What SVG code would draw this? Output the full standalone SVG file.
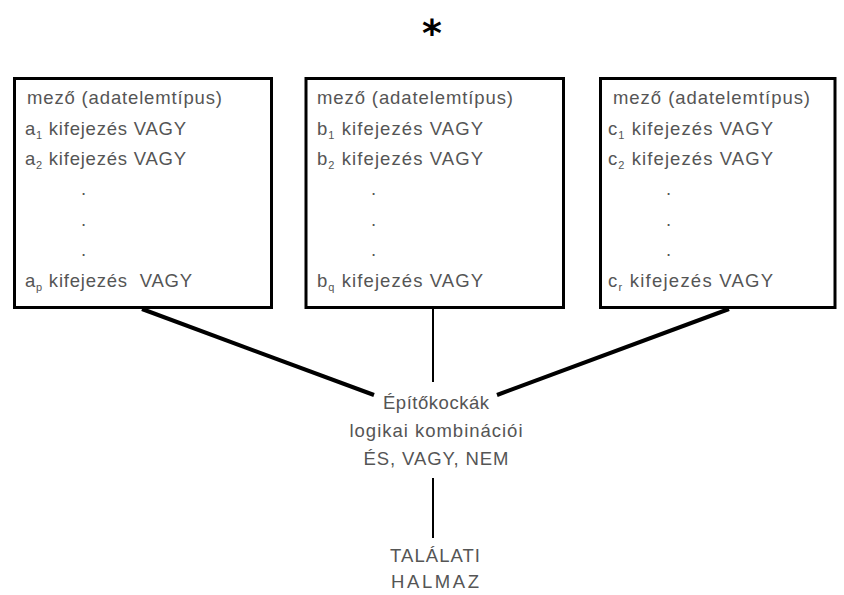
<svg xmlns="http://www.w3.org/2000/svg" width="844" height="595" viewBox="0 0 844 595">
<style>
.box{fill:#fff;stroke:#000;stroke-width:3}
.t{font-family:"Liberation Sans",Arial,sans-serif;font-size:18.5px;fill:#555}
.c{text-anchor:middle}
.sub{font-size:11px}
.thick{stroke:#000;stroke-width:4;fill:none}
.thin{stroke:#000;stroke-width:2;fill:none}
</style>
<rect width="844" height="595" fill="#fff"/>
<text x="432" y="46" font-family="DejaVu Sans,sans-serif" font-size="38" font-weight="bold" text-anchor="middle" fill="#000">*</text>
<g id="connectors">
<line class="thick" x1="142" y1="309" x2="374" y2="395"/>
<line class="thick" x1="729" y1="309" x2="497" y2="395"/>
<line class="thin" x1="433" y1="309" x2="433" y2="382"/>
<line class="thin" x1="433" y1="478" x2="433" y2="538"/>
</g>
<g id="boxA">
<rect class="box" x="14.5" y="78.5" width="257" height="229"/>
<text class="t" x="27" y="104" textLength="195">mező (adatelemtípus)</text>
<text class="t" x="25" y="134.5" textLength="161">a<tspan class="sub" dy="4">1</tspan><tspan dy="-4"> kifejezés VAGY</tspan></text>
<text class="t" x="25" y="165" textLength="161">a<tspan class="sub" dy="4">2</tspan><tspan dy="-4"> kifejezés VAGY</tspan></text>
<text class="t" x="81" y="195">.</text>
<text class="t" x="81" y="226">.</text>
<text class="t" x="81" y="256">.</text>
<text class="t" x="25" y="287" textLength="167" style="white-space:pre">a<tspan class="sub" dy="4">p</tspan><tspan dy="-4"> kifejezés  VAGY</tspan></text>
</g>
<g id="boxB">
<rect class="box" x="306" y="78.5" width="257.5" height="229"/>
<text class="t" x="317" y="104" textLength="196">mező (adatelemtípus)</text>
<text class="t" x="317" y="134.5" textLength="166">b<tspan class="sub" dy="4">1</tspan><tspan dy="-4"> kifejezés VAGY</tspan></text>
<text class="t" x="317" y="165" textLength="166">b<tspan class="sub" dy="4">2</tspan><tspan dy="-4"> kifejezés VAGY</tspan></text>
<text class="t" x="371" y="195">.</text>
<text class="t" x="371" y="226">.</text>
<text class="t" x="371" y="256">.</text>
<text class="t" x="317" y="287" textLength="166">b<tspan class="sub" dy="4">q</tspan><tspan dy="-4"> kifejezés VAGY</tspan></text>
</g>
<g id="boxC">
<rect class="box" x="600.5" y="78.5" width="234.5" height="229"/>
<text class="t" x="613" y="104" textLength="197">mező (adatelemtípus)</text>
<text class="t" x="608" y="134.5" textLength="165">c<tspan class="sub" dy="4">1</tspan><tspan dy="-4"> kifejezés VAGY</tspan></text>
<text class="t" x="608" y="165" textLength="165">c<tspan class="sub" dy="4">2</tspan><tspan dy="-4"> kifejezés VAGY</tspan></text>
<text class="t" x="666" y="195">.</text>
<text class="t" x="666" y="226">.</text>
<text class="t" x="666" y="256">.</text>
<text class="t" x="608" y="287" textLength="165">c<tspan class="sub" dy="4">r</tspan><tspan dy="-4"> kifejezés VAGY</tspan></text>
</g>
<g id="center">
<text class="t c" x="436" y="409" textLength="106">Építőkockák</text>
<text class="t c" x="436" y="437" textLength="173">logikai kombinációi</text>
<text class="t c" x="436" y="465" textLength="145">ÉS, VAGY, NEM</text>
</g>
<g id="result">
<text class="t c" x="435" y="562" textLength="90">TALÁLATI</text>
<text class="t c" x="435" y="588" textLength="88">HALMAZ</text>
</g>
</svg>
